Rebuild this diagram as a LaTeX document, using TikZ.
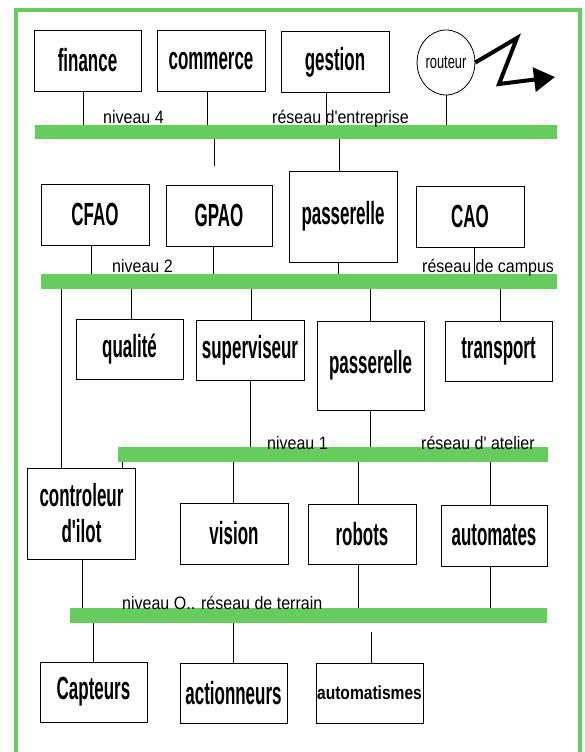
\documentclass[tikz,border=0pt]{standalone}
\usepackage{fontspec}
\usetikzlibrary{shapes.geometric,arrows.meta}
\newfontfamily\bxfont[FakeStretch=0.53]{Liberation Sans}
\newfontfamily\smbxfont[FakeStretch=0.82]{Liberation Sans}
\newfontfamily\lblfont[FakeStretch=0.89]{Liberation Sans}
\newfontfamily\rtfont[FakeStretch=0.68]{Liberation Sans}
\definecolor{busgreen}{RGB}{102,204,94}
\tikzset{
  unit/.style={draw, line width=0.8pt, inner sep=0pt, font=\bxfont\bfseries\fontsize{32}{36}\selectfont},
  bus/.style={fill=busgreen, draw=none, inner sep=0pt},
  conn/.style={line width=0.7pt},
  lbl/.style={font=\lblfont\fontsize{18}{20}\selectfont, inner sep=0pt, anchor=base west}
}
\begin{document}
\begin{tikzpicture}[x=1pt,y=-1pt]
\useasboundingbox (0,0) rectangle (584,752);
% frame
\draw[busgreen, line width=4pt] (16,770) -- (16,10) -- (580,10) -- (580,770);

% level 4
\node[unit, minimum width=107, minimum height=61] (finance) at (87.5,60.5) {finance};
\node[unit, minimum width=108, minimum height=61] (commerce) at (211,61) {commerce};
\node[unit, minimum width=108, minimum height=61] (gestion) at (335,62) {gestion};
\node[ellipse, draw, line width=0.8pt, minimum width=44, minimum height=65, inner sep=0pt,
      font=\rtfont\fontsize{19}{20}\selectfont] (routeur) at (446,62.5) {routeur};
\draw[line width=4pt, line join=miter, -{Triangle[length=21pt,width=24pt]}]
  (routeur.east) -- (517,38) -- (499,84) -- (555,77);
\node[bus, minimum width=522, minimum height=14] (bus4) at (296,132) {};
\node[lbl] (n4) at (103,123) {niveau 4};
\node[lbl] (r4) at (272,123) {réseau d'entreprise};

% level 2
\node[unit, minimum width=108, minimum height=61] (cfao) at (95,214.5) {CFAO};
\node[unit, minimum width=106, minimum height=61] (gpao) at (219,215.5) {GPAO};
\node[unit, minimum width=108, minimum height=91] (pass2) at (343,216.5) {passerelle};
\node[unit, minimum width=108, minimum height=61] (cao) at (470,216.5) {CAO};
\node[bus, minimum width=516, minimum height=15] (bus2) at (299,281.5) {};
\node[lbl] (n2) at (112,272) {niveau 2};
\node[lbl] (r2) at (422,272) {réseau de campus};

% level 1
\node[unit, minimum width=107, minimum height=60] (qualite) at (129.5,349) {qualité};
\node[unit, minimum width=108, minimum height=60] (superv) at (250,350) {superviseur};
\node[unit, minimum width=107, minimum height=89] (pass1) at (370.5,365.5) {passerelle};
\node[unit, minimum width=107, minimum height=60] (transport) at (498.5,351) {transport};
\node[bus, minimum width=430, minimum height=15] (bus1) at (333,454.5) {};
\node[lbl] (n1) at (267,449) {niveau 1};
\node[lbl] (r1) at (421,449) {réseau d' atelier};

% level 0
\node[unit, minimum width=108, minimum height=91, align=center] (ctrl) at (81.5,513.5) {controleur\\d'ilot};
\node[unit, minimum width=108, minimum height=61] (vision) at (234,533.5) {vision};
\node[unit, minimum width=108, minimum height=60] (robots) at (362,534) {robots};
\node[unit, minimum width=106, minimum height=61] (automates) at (494,535.5) {automates};
\node[bus, minimum width=477, minimum height=15] (bus0) at (308.5,615.5) {};
\node[lbl] (n0) at (122,609) {niveau O.. réseau de terrain};

% bottom
\node[unit, minimum width=107, minimum height=60] (capteurs) at (93.5,692) {Capteurs};
\node[unit, minimum width=107, minimum height=60] (action) at (233.5,693) {actionneurs};
\node[unit, minimum width=107, minimum height=60, font=\smbxfont\bfseries\fontsize{19}{20}\selectfont] (automat) at (369.5,693) {automatismes};

% connectors level 4
\draw[conn] (finance.south -| 83,0) -- (bus4.north -| 83,0);
\draw[conn] (commerce.south -| 207,0) -- (bus4.north -| 207,0);
\draw[conn] (gestion.south -| 326,0) -- (bus4.north -| 326,0);
\draw[conn] (routeur.south -| 446,0) -- (bus4.north -| 446,0);
\coordinate (stub4) at (214,166);
\draw[conn] (bus4.south -| stub4) -- (stub4);
\draw[conn] (bus4.south -| 339,0) -- (pass2.north -| 339,0);

% connectors level 2
\draw[conn] (cfao.south -| 91,0) -- (bus2.north -| 91,0);
\draw[conn] (gpao.south -| 213,0) -- (bus2.north -| 213,0);
\draw[conn] (pass2.south -| 338,0) -- (bus2.north -| 338,0);
\draw[conn] (cao.south -| 474,0) -- (bus2.north -| 474,0);
\draw[conn] (bus2.south -| 61,0) -- (ctrl.north -| 61,0);
\draw[conn] (bus2.south -| 131,0) -- (qualite.north -| 131,0);
\draw[conn] (bus2.south -| 251,0) -- (superv.north -| 251,0);
\draw[conn] (bus2.south -| 370,0) -- (pass1.north -| 370,0);
\draw[conn] (bus2.south -| 500,0) -- (transport.north -| 500,0);

% connectors level 1
\draw[conn] (superv.south -| 250,0) -- (bus1.north -| 250,0);
\draw[conn] (pass1.south -| 370,0) -- (bus1.north -| 370,0);
\draw[conn] (bus1.south -| 122,0) -- (ctrl.north -| 122,0);
\draw[conn] (bus1.south -| 233,0) -- (vision.north -| 233,0);
\draw[conn] (bus1.south -| 358,0) -- (robots.north -| 358,0);
\draw[conn] (bus1.south -| 490,0) -- (automates.north -| 490,0);

% connectors level 0
\draw[conn] (ctrl.south -| 82,0) -- (bus0.north -| 82,0);
\draw[conn] (robots.south -| 358,0) -- (bus0.north -| 358,0);
\draw[conn] (automates.south -| 490,0) -- (bus0.north -| 490,0);
\draw[conn] (bus0.south -| 93,0) -- (capteurs.north -| 93,0);
\draw[conn] (bus0.south -| 233,0) -- (action.north -| 233,0);
\coordinate (stub0) at (371,632);
\draw[conn] (stub0) -- (automat.north -| stub0);
\end{tikzpicture}
\end{document}
